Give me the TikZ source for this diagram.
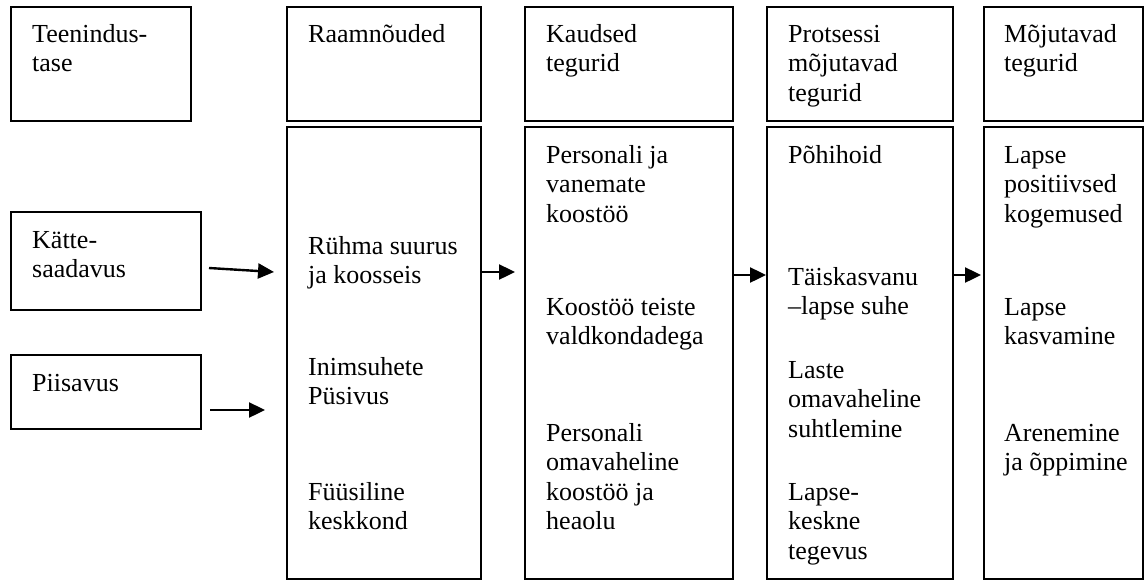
\documentclass[tikz,border=0pt]{standalone}
\usepackage{fontspec}
\setmainfont{Liberation Serif}
\usetikzlibrary{arrows.meta}
\newcommand{\lines}[1]{\begin{tabular}[t]{@{}l@{}}#1\end{tabular}}
\begin{document}
\begin{tikzpicture}[x=1pt,y=-1pt,
 box/.style={draw, line width=1.8pt, rectangle, inner sep=0pt, outer sep=0pt},
 txt/.style={anchor=base west, inner sep=0pt, font=\fontsize{26}{29.5}\selectfont},
 arr/.style={line width=2.4pt, -{Triangle[length=16pt,width=15pt]}}]
\useasboundingbox (0,0) rectangle (1145,581);
% header boxes
\node[box, minimum width=180pt, minimum height=114pt] (h1) at (101,64) {};
\node[box, minimum width=194pt, minimum height=114pt] (h2) at (384,64) {};
\node[box, minimum width=208pt, minimum height=114pt] (h3) at (629,64) {};
\node[box, minimum width=186pt, minimum height=114pt] (h4) at (860,64) {};
\node[box, minimum width=159pt, minimum height=114pt] (h5) at (1063.5,64) {};
% body boxes
\node[box, minimum width=194pt, minimum height=452pt] (b2) at (384,353) {};
\node[box, minimum width=208pt, minimum height=452pt] (b3) at (629,353) {};
\node[box, minimum width=186pt, minimum height=452pt] (b4) at (860,353) {};
\node[box, minimum width=159pt, minimum height=452pt] (b5) at (1063.5,353) {};
% left boxes
\node[box, minimum width=190pt, minimum height=98pt] (k) at (106,261) {};
\node[box, minimum width=190pt, minimum height=74pt] (p) at (106,392) {};
% texts
\node[txt] (t1) at (32,42) {\lines{Teenindus-\\tase}};
\node[txt] (t2) at (308,42) {\lines{Raamnõuded}};
\node[txt] (t3) at (546,42) {\lines{Kaudsed\\tegurid}};
\node[txt] (t4) at (788,42) {\lines{Protsessi\\mõjutavad\\tegurid}};
\node[txt] (t5) at (1004,42) {\lines{Mõjutavad\\tegurid}};
\node[txt] (tk) at (32,248) {\lines{Kätte-\\saadavus}};
\node[txt] (tp) at (32,391) {\lines{Piisavus}};
\node[txt] (t21) at (308,254) {\lines{Rühma suurus\\ja koosseis}};
\node[txt] (t22) at (308,375) {\lines{Inimsuhete\\Püsivus}};
\node[txt] (t23) at (308,500) {\lines{Füüsiline\\keskkond}};
\node[txt] (t31) at (546,163) {\lines{Personali ja\\vanemate\\koostöö}};
\node[txt] (t32) at (546,315) {\lines{Koostöö teiste\\valdkondadega}};
\node[txt] (t33) at (546,441) {\lines{Personali\\omavaheline\\koostöö ja\\heaolu}};
\node[txt] (t41) at (788,163) {\lines{Põhihoid}};
\node[txt] (t42) at (788,285) {\lines{Täiskasvanu\\–lapse suhe}};
\node[txt] (t43) at (788,378) {\lines{Laste\\omavaheline\\suhtlemine}};
\node[txt] (t44) at (788,500) {\lines{Lapse-\\keskne\\tegevus}};
\node[txt] (t51) at (1004,163) {\lines{Lapse\\positiivsed\\kogemused}};
\node[txt] (t52) at (1004,315) {\lines{Lapse\\kasvamine}};
\node[txt] (t53) at (1004,441) {\lines{Arenemine\\ja õppimine}};
% arrows
\coordinate (a1s) at (209,268);
\coordinate (a1e) at (274,272);
\coordinate (a2s) at (210,410);
\coordinate (a2e) at (265,410);
\coordinate (a3e) at (515,272);
\coordinate (a4e) at (766,275);
\coordinate (a5e) at (981,275);
\draw[arr] (a1s) -- (a1e);
\draw[arr] (a2s) -- (a2e);
\draw[arr] (b2.east |- a3e) -- (a3e);
\draw[arr] (b3.east |- a4e) -- (a4e);
\draw[arr] (b4.east |- a5e) -- (a5e);
\end{tikzpicture}
\end{document}
